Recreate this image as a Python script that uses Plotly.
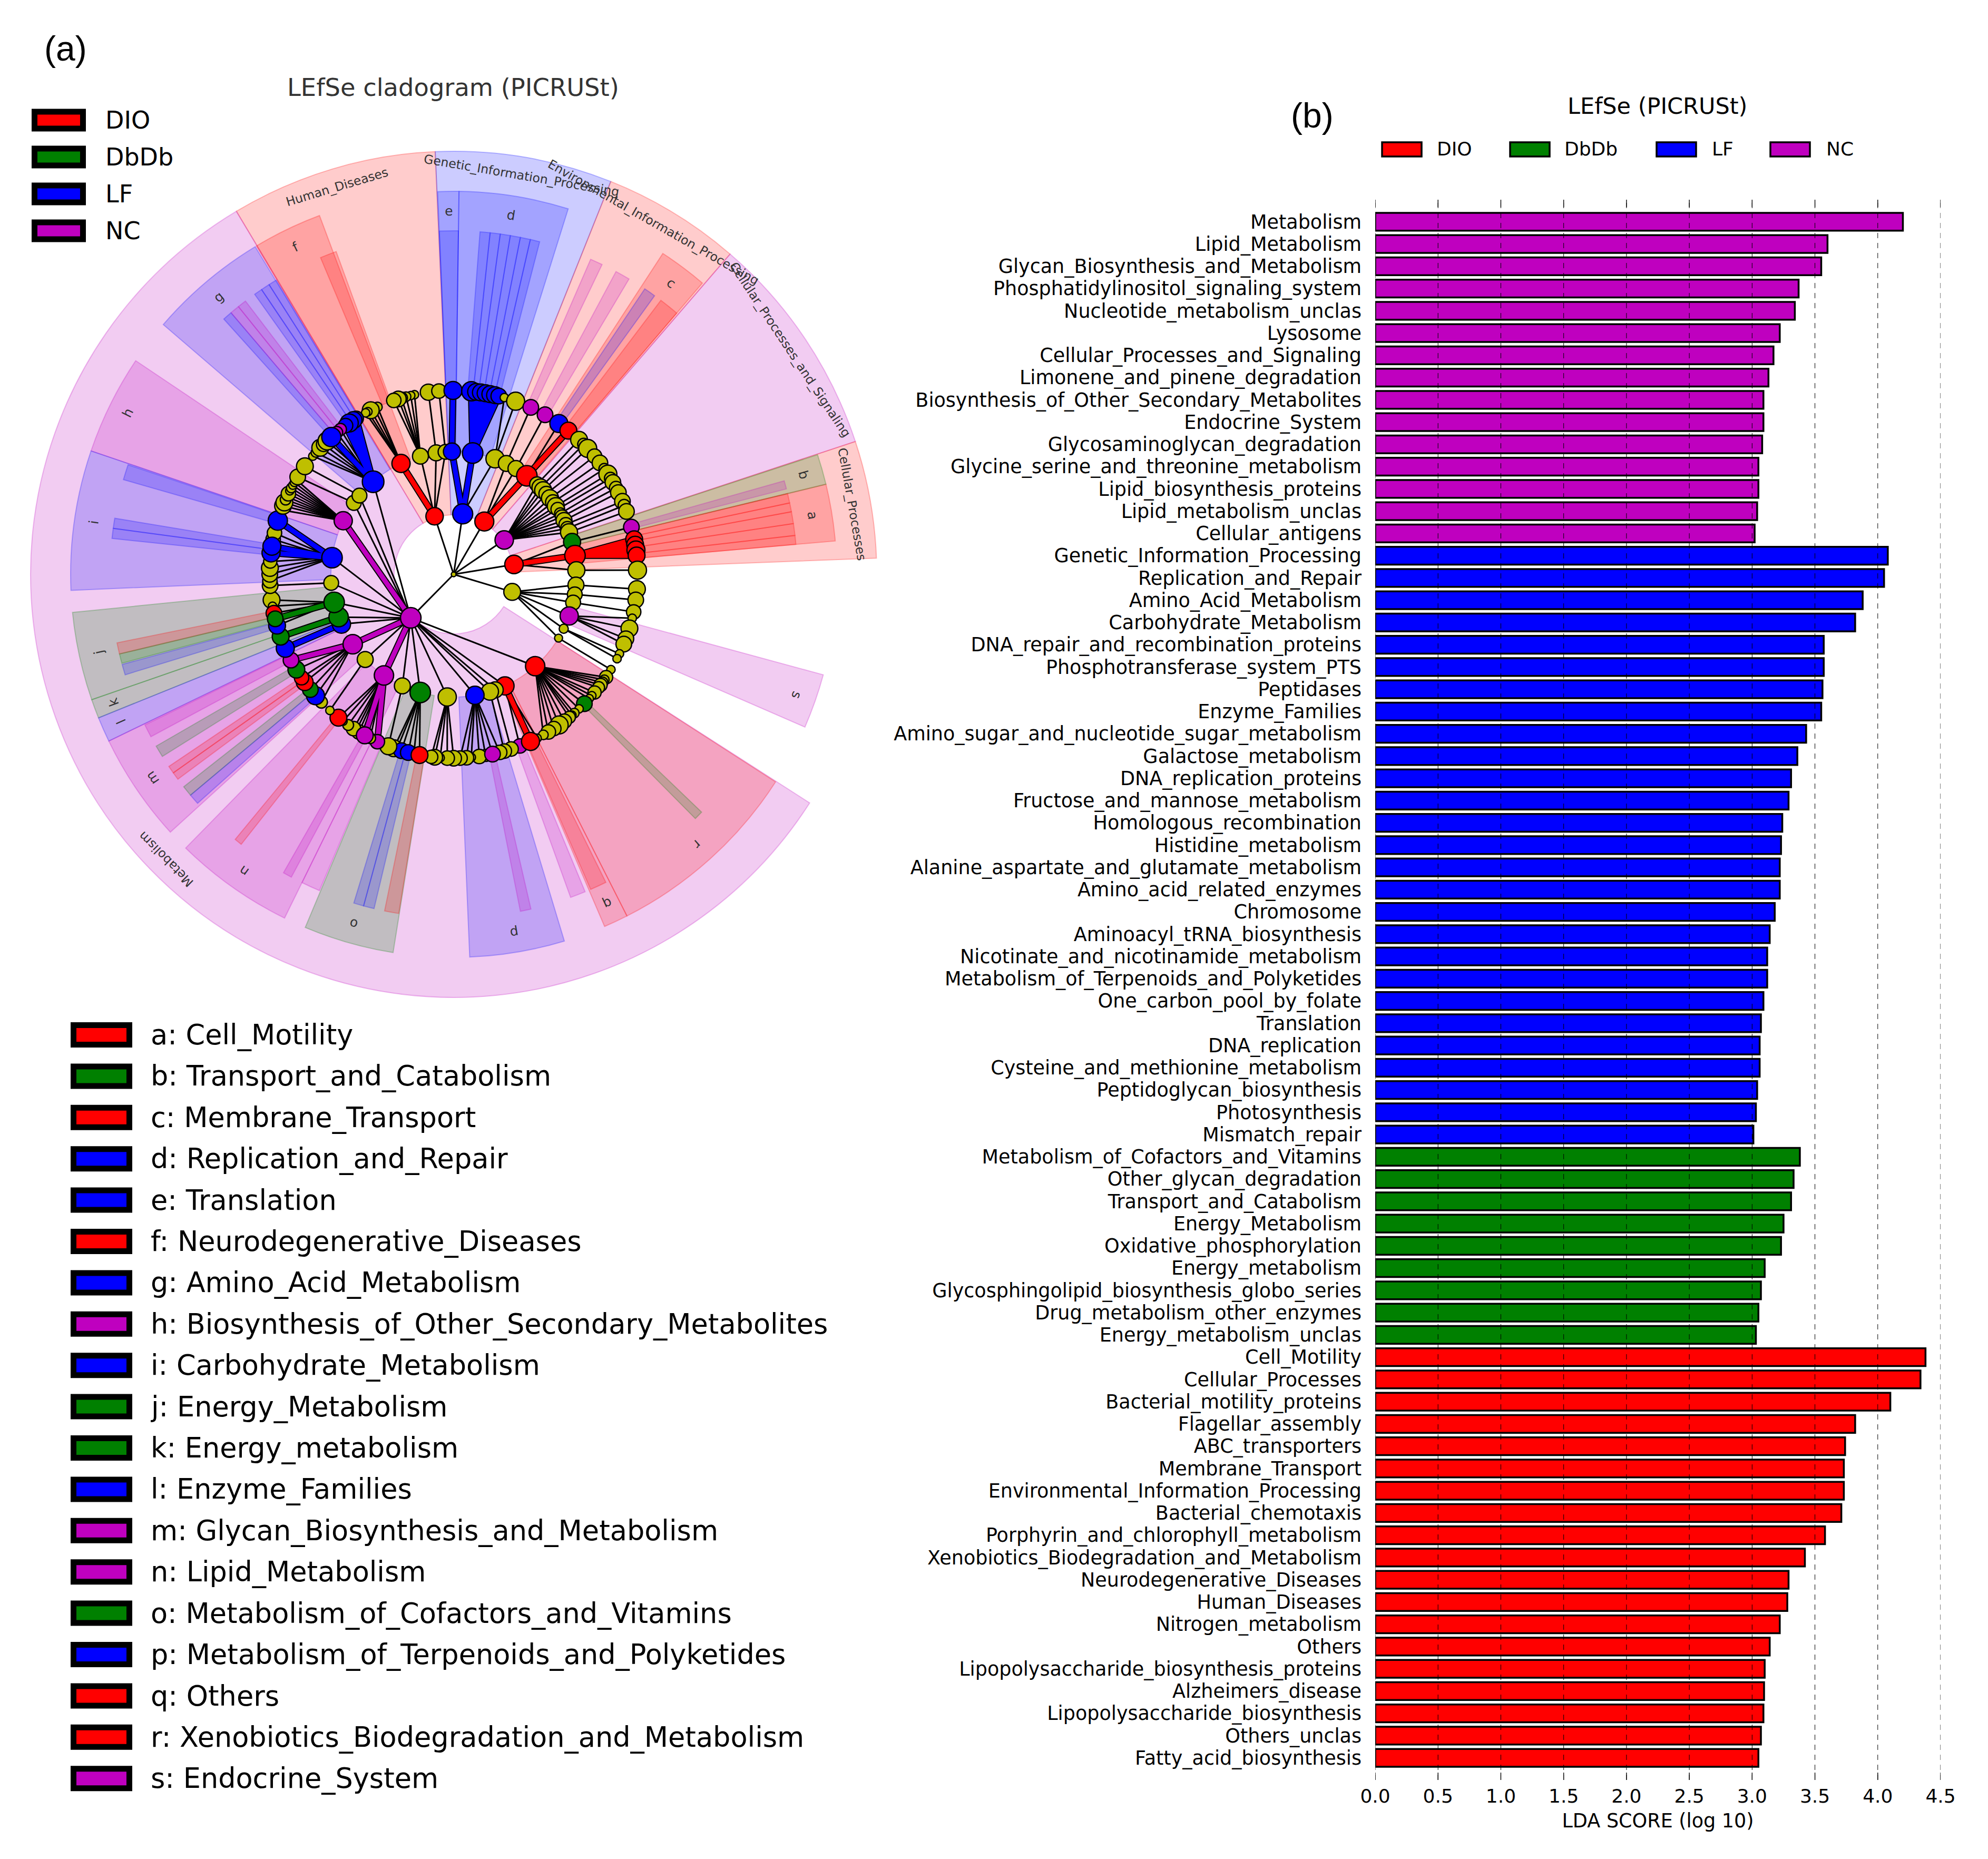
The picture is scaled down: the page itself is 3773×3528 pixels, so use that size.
import math
import plotly.graph_objects as go

W, H = 3773, 3528
FONT = "DejaVu Sans"

# ---------------- bar chart data ----------------
nc_names = ["Metabolism", "Lipid_Metabolism", "Glycan_Biosynthesis_and_Metabolism", "Phosphatidylinositol_signaling_system",
            "Nucleotide_metabolism_unclas", "Lysosome", "Cellular_Processes_and_Signaling", "Limonene_and_pinene_degradation",
            "Biosynthesis_of_Other_Secondary_Metabolites", "Endocrine_System", "Glycosaminoglycan_degradation",
            "Glycine_serine_and_threonine_metabolism", "Lipid_biosynthesis_proteins", "Lipid_metabolism_unclas", "Cellular_antigens"]
nc_values = [4.20, 3.60, 3.55, 3.37, 3.34, 3.22, 3.17, 3.13, 3.09, 3.09, 3.08, 3.05, 3.05, 3.04, 3.02]
lf_names = ["Genetic_Information_Processing", "Replication_and_Repair", "Amino_Acid_Metabolism", "Carbohydrate_Metabolism",
            "DNA_repair_and_recombination_proteins", "Phosphotransferase_system_PTS", "Peptidases", "Enzyme_Families",
            "Amino_sugar_and_nucleotide_sugar_metabolism", "Galactose_metabolism", "DNA_replication_proteins",
            "Fructose_and_mannose_metabolism", "Homologous_recombination", "Histidine_metabolism",
            "Alanine_aspartate_and_glutamate_metabolism", "Amino_acid_related_enzymes", "Chromosome", "Aminoacyl_tRNA_biosynthesis",
            "Nicotinate_and_nicotinamide_metabolism", "Metabolism_of_Terpenoids_and_Polyketides", "One_carbon_pool_by_folate",
            "Translation", "DNA_replication", "Cysteine_and_methionine_metabolism", "Peptidoglycan_biosynthesis", "Photosynthesis",
            "Mismatch_repair"]
lf_values = [4.08, 4.05, 3.88, 3.82, 3.57, 3.57, 3.56, 3.55, 3.43, 3.36, 3.31, 3.29, 3.24, 3.23, 3.22, 3.22, 3.18, 3.14, 3.12, 3.12,
             3.09, 3.07, 3.06, 3.06, 3.04, 3.03, 3.01]
dbdb_names = ["Metabolism_of_Cofactors_and_Vitamins", "Other_glycan_degradation", "Transport_and_Catabolism", "Energy_Metabolism",
              "Oxidative_phosphorylation", "Energy_metabolism", "Glycosphingolipid_biosynthesis_globo_series",
              "Drug_metabolism_other_enzymes", "Energy_metabolism_unclas"]
dbdb_values = [3.38, 3.33, 3.31, 3.25, 3.23, 3.10, 3.07, 3.05, 3.03]
dio_names = ["Cell_Motility", "Cellular_Processes", "Bacterial_motility_proteins", "Flagellar_assembly", "ABC_transporters",
             "Membrane_Transport", "Environmental_Information_Processing", "Bacterial_chemotaxis", "Porphyrin_and_chlorophyll_metabolism",
             "Xenobiotics_Biodegradation_and_Metabolism", "Neurodegenerative_Diseases", "Human_Diseases", "Nitrogen_metabolism", "Others",
             "Lipopolysaccharide_biosynthesis_proteins", "Alzheimers_disease", "Lipopolysaccharide_biosynthesis", "Others_unclas",
             "Fatty_acid_biosynthesis"]
dio_values = [4.38, 4.34, 4.10, 3.82, 3.74, 3.73, 3.73, 3.71, 3.58, 3.42, 3.29, 3.28, 3.22, 3.14, 3.10, 3.095, 3.09, 3.07, 3.05]
x_ticks = [0.0, 0.5, 1.0, 1.5, 2.0, 2.5, 3.0, 3.5, 4.0, 4.5]

groups = ["DIO", "DbDb", "LF", "NC"]
group_color = {"DIO": "#FF0000", "DbDb": "#008000", "LF": "#0000FF", "NC": "#BF00BF", "none": "#BFBF00"}
group_fill = {"DIO": "rgba(255,0,0,0.2)", "DbDb": "rgba(0,128,0,0.2)", "LF": "rgba(0,0,255,0.2)", "NC": "rgba(191,0,191,0.2)"}
group_edge = {"DIO": "rgba(255,0,0,0.25)", "DbDb": "rgba(0,128,0,0.25)", "LF": "rgba(0,0,255,0.25)", "NC": "rgba(191,0,191,0.25)"}

# ---------------- cladogram highlighted sectors (degrees clockwise from north) ----------------
sector1_names = ["Human_Diseases", "Genetic_Information_Processing", "Environmental_Information_Processing",
                 "Cellular_Processes_and_Signaling", "Cellular_Processes", "Metabolism"]
sector1_start = [-30.9, -2.5, 21.8, 40.8, 71.7, 122.7]
sector1_end = [-2.5, 21.8, 40.8, 71.7, 87.8, 329.1]
sector1_group = ["DIO", "LF", "DIO", "NC", "DIO", "NC"]
sector1_label_theta = [-16.8, 9.7, 29.6, 56.3, 80.0, 225.3]

sector2_letters = ["a", "b", "c", "d", "e", "f", "g", "h", "i", "j", "k", "l", "m", "n", "o", "p", "q", "r", "s"]
sector2_names = ["Cell_Motility", "Transport_and_Catabolism", "Membrane_Transport", "Replication_and_Repair", "Translation",
                 "Neurodegenerative_Diseases", "Amino_Acid_Metabolism", "Biosynthesis_of_Other_Secondary_Metabolites",
                 "Carbohydrate_Metabolism", "Energy_Metabolism", "Energy_metabolism", "Enzyme_Families",
                 "Glycan_Biosynthesis_and_Metabolism", "Lipid_Metabolism", "Metabolism_of_Cofactors_and_Vitamins",
                 "Metabolism_of_Terpenoids_and_Polyketides", "Others", "Xenobiotics_Biodegradation_and_Metabolism", "Endocrine_System"]
sector2_start = [76.4, 71.8, 33.1, 0.8, -2.4, -31.0, -49.3, -71.2, -92.4, 250.9, 248.0, 244.2, 227.7, 206.2, 189.1, 163.2, 153.1, 122.8, 105.2]
sector2_end = [85.0, 76.4, 40.5, 17.4, 0.8, -20.5, -31.2, -56.1, -71.2, 264.3, 250.9, 248.0, 244.2, 224.4, 202.8, 177.6, 156.8, 153.1, 113.5]
sector2_group = ["DIO", "DbDb", "DIO", "LF", "LF", "DIO", "LF", "NC", "LF", "DbDb", "DbDb", "LF", "NC", "NC", "DbDb", "LF", "DIO", "DIO", "NC"]

sector3_start = [-22.8, -2.4, 4.4, 6.1, 7.8, 9.5, 11.2, 12.9, 23.5, 28.2, 33.8, 37.1, 74.2, 76.4, 78.0, 79.5, 81.5, 83.5, 133.8, 153.7, 157.5,
                 167.0, 189.2, 193.4, 195.2, 203.0, 208.2, 218.2, 241.8, 238.0, 233.4, 234.7, 230.0, 228.2, 256.6, 255.0, 253.0, 286.0, 276.0,
                 277.7, 318.0, 319.6, 321.2, 324.6, 326.0, 327.5]
sector3_end = [-20.0, 0.8, 6.1, 7.8, 9.5, 11.2, 12.9, 14.5, 25.6, 30.7, 35.8, 40.5, 75.6, 78.0, 79.5, 81.5, 83.5, 85.0, 135.3, 156.5, 160.1,
               168.8, 191.6, 195.2, 196.9, 206.2, 209.7, 219.5, 244.0, 240.0, 234.7, 236.0, 231.8, 230.0, 258.5, 256.6, 254.8, 288.6, 277.7,
               279.4, 319.6, 321.2, 322.7, 326.0, 327.5, 328.9]
sector3_group = ["DIO", "LF", "LF", "LF", "LF", "LF", "LF", "LF", "NC", "NC", "LF", "DIO", "NC", "DIO", "DIO", "DIO", "DIO", "DIO", "DbDb", "DIO", "NC",
                 "NC", "DIO", "LF", "LF", "NC", "NC", "DIO", "NC", "DbDb", "DIO", "DIO", "DbDb", "LF", "DIO", "DbDb", "LF", "LF", "LF",
                 "LF", "LF", "NC", "NC", "LF", "LF", "LF"]

# ---------------- cladogram nodes ----------------
level1_ids = ["hd", "gi", "en", "cs", "cp", "or", "me"]
level1_theta = [-18.2, 8.5, 30.1, 55.8, 80.7, 106.7, 224.6]
level1_group = ["DIO", "LF", "DIO", "NC", "DIO", "none", "NC"]
level1_size = [33, 38, 36, 35, 35, 32, 39]

level2_ids = ["f", "h2", "h3", "h4", "e", "d", "g3", "n1", "n2", "c",
              "s01", "s02", "s03", "s04", "s05", "s06", "s07", "s08", "s09", "s10", "s11", "s12", "s13", "s14",
              "b", "a", "p3", "o1", "o2", "o3", "s", "o5", "o6",
              "r", "q", "m1", "m2", "p", "m3", "o", "m4", "n", "m5", "m", "l", "k", "j", "m6", "i", "h", "m7", "m8", "g"]
level2_parent = ["hd", "hd", "hd", "hd", "gi", "gi", "gi", "en", "en", "en",
                 "cs", "cs", "cs", "cs", "cs", "cs", "cs", "cs", "cs", "cs", "cs", "cs", "cs", "cs",
                 "cp", "cp", "cp", "or", "or", "or", "or", "or", "or",
                 "me", "me", "me", "me", "me", "me", "me", "me", "me", "me", "me", "me", "me", "me", "me", "me", "me", "me", "me", "me"]
level2_theta = [-25.4, -15.7, -8.2, -3.8, -0.8, 8.9, 19.7, 25.4, 30.5, 36.6,
                42.8, 45.0, 46.8, 49.0, 51.7, 54.0, 56.3, 58.0, 60.3, 62.0, 64.0, 66.0, 68.0, 70.0,
                74.7, 81.2, 88.1, 95.0, 99.4, 103.3, 109.8, 116.3, 121.3,
                138.4, 155.3, 160.2, 162.8, 170.0, 183.0, 195.8, 204.7, 214.6, 226.1, 235.3, 246.1, 249.6, 256.8, 266.0, 277.8, 295.9, 305.6, 309.9, 319.0]
level2_group = ["DIO", "none", "none", "none", "LF", "LF", "none", "none", "none", "DIO"] + ["none"] * 14 + \
               ["DbDb", "DIO", "none", "none", "none", "none", "NC", "none", "none",
                "DIO", "DIO", "none", "none", "LF", "none", "DbDb", "none", "NC", "none", "NC", "LF", "DbDb", "DbDb", "none", "LF", "NC", "none", "none", "LF"]
level2_size = [32, 28, 28, 26, 30, 36, 32, 28, 28, 36,
               26, 30, 30, 26, 30, 26, 30, 24, 20, 24, 28, 24, 24, 30,
               30, 36, 30, 28, 26, 26, 32, 16, 14,
               34, 32, 28, 30, 32, 32, 36, 28, 34, 28, 34, 32, 34, 36, 26, 36, 32, 26, 26, 38]

level3_parent = ["f", "f", "f", "f", "f", "h2", "h2", "h2", "h2", "h2", "h2", "h3", "h4", "e",
                 "d", "d", "d", "d", "d", "d", "d", "g3", "g3", "n1", "n2", "c", "c",
                 "s01", "s02", "s03", "s04", "s05", "s06", "s07", "s08", "s09", "s10", "s11", "s12", "s13", "s14",
                 "b", "a", "a", "a", "a", "p3", "o1", "o2", "o3", "s", "s", "s", "s", "o5", "o5", "o6",
                 "r", "r", "r", "r", "r", "r", "r", "r", "r", "r", "r", "r", "r", "r", "r", "r", "r", "r",
                 "q", "q", "q", "m1", "m2",
                 "p", "p", "p", "p", "p", "p", "p", "m3", "m3", "m3", "m3", "m3",
                 "o", "o", "o", "o", "o", "o", "m4",
                 "n", "n", "n", "n", "n", "n", "n", "n", "n", "n", "m5",
                 "m", "m", "m", "m", "m", "m", "m", "l", "k", "j", "j", "j", "j", "j", "m6",
                 "i", "i", "i", "i", "i", "i", "i", "i", "i",
                 "h", "h", "h", "h", "h", "h", "h", "h", "h", "h", "h", "m7", "m8",
                 "g", "g", "g", "g", "g", "g", "g", "g", "g", "g", "g", "g"]
level3_theta = [-24.5, -25.5, -26.8, -27.8, -28.6, -12.3, -13.5, -15.0, -16.5, -17.5, -19.0, -7.9, -4.6, -0.2,
                5.5, 7.0, 8.5, 10.0, 11.5, 13.0, 14.2, 16.0, 19.7, 24.8, 29.8, 34.9, 38.6,
                43.0, 45.0, 46.8, 50.0, 52.7, 55.0, 57.0, 58.5, 60.0, 62.0, 63.6, 66.6, 68.0, 70.0,
                75.1, 79.0, 80.7, 82.4, 84.1, 88.7, 94.6, 98.0, 101.8, 103.8, 107.1, 110.5, 112.3, 115.6, 117.3, 121.2,
                124.0, 125.0, 126.0, 127.0, 128.0, 130.0, 131.3, 132.5, 134.7, 137.0, 139.0, 140.0, 141.0, 143.0, 145.0, 147.0, 149.0, 150.8,
                153.0, 158.9, 155.3, 161.8, 164.0,
                165.5, 170.0, 172.0, 174.5, 176.0, 178.0, 167.8, 180.0, 182.0, 184.2, 185.9, 187.0,
                192.5, 198.0, 199.0, 196.5, 194.3, 190.7, 200.8,
                204.5, 207.0, 210.0, 211.0, 212.0, 213.0, 215.0, 217.0, 218.8, 208.9, 222.3,
                226.0, 228.7, 231.2, 234.1, 235.8, 238.8, 242.2, 246.3, 250.2, 262.0, 260.0, 253.8, 257.8, 256.0, 266.5,
                268.0, 270.0, 272.0, 274.0, 281.0, 283.0, 276.7, 278.8, 287.0,
                290.5, 291.9, 293.0, 294.0, 295.0, 296.0, 297.0, 298.0, 299.0, 300.0, 301.0, 302.0, 306.0,
                310.0, 311.5, 313.5, 315.0, 316.5, 328.0, 327.0, 325.4, 324.0, 322.0, 320.5, 318.3]
level3_group = ["none", "none", "none", "none", "none", "none", "none", "none", "none", "none", "none", "none", "none", "LF",
                "LF", "LF", "LF", "LF", "LF", "LF", "LF", "none", "none", "NC", "NC", "LF", "DIO"] + ["none"] * 14 + \
               ["NC", "DIO", "DIO", "DIO", "DIO", "none", "none", "none", "none", "none", "none", "none", "none", "none", "none", "none",
                "none", "none", "none", "none", "none", "none", "none", "none", "DbDb", "none", "none", "none", "none", "none", "none", "none", "none", "none",
                "none", "NC", "DIO", "none", "none",
                "none", "none", "none", "none", "none", "none", "NC", "none", "none", "none", "none", "none",
                "none", "none", "none", "LF", "LF", "DIO", "none",
                "NC", "none", "none", "none", "none", "none", "none", "none", "DIO", "NC", "none",
                "none", "LF", "DbDb", "DIO", "DIO", "DbDb", "NC", "LF", "DbDb", "none", "none", "LF", "DIO", "DbDb", "none",
                "none", "none", "none", "none", "none", "none", "LF", "LF", "LF",
                "none", "none", "none", "none", "none", "none", "none", "none", "none", "none", "none", "none", "none",
                "none", "none", "none", "none", "none", "LF", "LF", "LF", "LF", "NC", "NC", "LF"]
level3_size = [16, 14, 28, 14, 14, 14, 14, 16, 20, 26, 24, 27, 24, 30,
               32, 28, 28, 28, 28, 28, 26, 14, 30, 26, 26, 30, 28,
               28, 20, 30, 24, 26, 18, 30, 20, 26, 22, 26, 26, 20, 26,
               26, 28, 28, 30, 28, 30, 28, 26, 24, 14, 28, 26, 26, 14, 14, 14,
               22, 16, 18, 22, 20, 22, 14, 14, 26, 14, 16, 14, 20, 24, 30, 24, 24, 16,
               14, 24, 30, 24, 24,
               24, 20, 24, 14, 24, 24, 26, 26, 24, 14, 26, 22,
               14, 20, 28, 26, 26, 28, 28,
               24, 18, 18, 24, 18, 24, 18, 14, 28, 28, 14,
               20, 30, 26, 28, 24, 28, 26, 30, 28, 28, 14, 28, 26, 26, 26,
               24, 26, 28, 22, 24, 24, 30, 30, 32,
               14, 28, 28, 18, 14, 24, 14, 16, 14, 14, 14, 26, 28,
               14, 16, 28, 24, 30, 24, 28, 30, 24, 20, 20, 32]

# ---------------- geometry ----------------
CX, CY, RMAX = 861, 1090, 830
R_LEVEL = [0, 116, 233, 349]
R_IN = [113, 233, 349]
R_OUT = [803, 727, 652]
BAR_L, BAR_R, BAR_T, BAR_B = 2610, 3683, 379, 3378
SIZE2 = 1.08
SIZE3 = 1.14


def fx(x):
    return x / W


def fy(y):
    return 1 - y / H


def polar_px(theta, r):
    t = math.radians(theta)
    return CX + r * math.sin(t), CY - r * math.cos(t)


fig = go.Figure()


def add_sectors(starts, ends, grps, level, edge_w):
    fig.add_trace(go.Barpolar(
        theta=[(a + b) / 2 for a, b in zip(starts, ends)],
        width=[b - a for a, b in zip(starts, ends)],
        base=[R_IN[level]] * len(starts),
        r=[R_OUT[level] - R_IN[level]] * len(starts),
        marker=dict(color=[group_fill[g] for g in grps],
                    line=dict(color=[group_edge[g] for g in grps], width=edge_w)),
        subplot="polar", hoverinfo="skip", showlegend=False))


add_sectors(sector1_start, sector1_end, sector1_group, 0, 2)
add_sectors(sector2_start, sector2_end, sector2_group, 1, 2)
add_sectors(sector3_start, sector3_end, sector3_group, 2, 2)

# edges
l1_theta = dict(zip(level1_ids, level1_theta))
l1_group = dict(zip(level1_ids, level1_group))
l2_theta = dict(zip(level2_ids, level2_theta))
l2_group = dict(zip(level2_ids, level2_group))

edges = []
for t, g in zip(level1_theta, level1_group):
    edges.append((0, 0, t, R_LEVEL[1], "x", "y"))
for p, t, g in zip(level2_parent, level2_theta, level2_group):
    edges.append((l1_theta[p], R_LEVEL[1], t, R_LEVEL[2], l1_group[p], g))
for p, t, g in zip(level3_parent, level3_theta, level3_group):
    edges.append((l2_theta[p], R_LEVEL[2], t, R_LEVEL[3], l2_group[p], g))

thin_t, thin_r = [], []
thick = {g: ([], []) for g in groups}
for t0, r0, t1, r1, g0, g1 in edges:
    if g0 == g1 and g1 in thick:
        thick[g1][0].extend([t0, t1, None])
        thick[g1][1].extend([r0, r1, None])
    else:
        thin_t.extend([t0, t1, None])
        thin_r.extend([r0, r1, None])

fig.add_trace(go.Scatterpolar(theta=thin_t, r=thin_r, mode="lines", line=dict(color="black", width=3),
                              subplot="polar", hoverinfo="skip", showlegend=False))
for g in groups:
    tt, rr = thick[g]
    if tt:
        fig.add_trace(go.Scatterpolar(theta=tt, r=rr, mode="lines", line=dict(color="black", width=13),
                                      subplot="polar", hoverinfo="skip", showlegend=False))
        fig.add_trace(go.Scatterpolar(theta=tt, r=rr, mode="lines", line=dict(color=group_color[g], width=9),
                                      subplot="polar", hoverinfo="skip", showlegend=False))


def add_nodes(theta, r, grps, sizes):
    n = min(len(theta), len(grps), len(sizes))
    fig.add_trace(go.Scatterpolar(
        theta=theta[:n], r=r[:n], mode="markers",
        marker=dict(color=[group_color[g] for g in grps[:n]], size=sizes[:n],
                    line=dict(color="black", width=2.5), opacity=1),
        subplot="polar", hoverinfo="skip", showlegend=False))


add_nodes(level3_theta, [R_LEVEL[3]] * len(level3_theta), level3_group, [max(16, s * SIZE3) for s in level3_size])
add_nodes(level2_theta, [R_LEVEL[2]] * len(level2_theta), level2_group, [s * SIZE2 for s in level2_size])
add_nodes(level1_theta, [R_LEVEL[1]] * len(level1_theta), level1_group, level1_size)
add_nodes([0], [0], ["none"], [9])

# bars
all_names = nc_names + lf_names + dbdb_names + dio_names
for g, names, values in [("NC", nc_names, nc_values), ("LF", lf_names, lf_values),
                         ("DbDb", dbdb_names, dbdb_values), ("DIO", dio_names, dio_values)]:
    fig.add_trace(go.Bar(y=names, x=values, orientation="h", width=0.8, name=g,
                         marker=dict(color=group_color[g], line=dict(color="black", width=3.5)),
                         xaxis="x", yaxis="y", showlegend=False, hoverinfo="skip"))

annotations = []
shapes = []


def text(x, y, s, size, anchor="left", angle=0, color="black", family=FONT):
    annotations.append(dict(x=fx(x), y=fy(y), xref="paper", yref="paper", text=s, showarrow=False,
                            xanchor=anchor, yanchor="middle", textangle=angle,
                            font=dict(family=family, size=size, color=color)))


def patch(x0, y0, x1, y1, color, lw):
    shapes.append(dict(type="rect", xref="paper", yref="paper", x0=fx(x0), x1=fx(x1), y0=fy(y0), y1=fy(y1),
                       fillcolor=color, line=dict(color="black", width=lw), layer="above"))


# titles and panel labels
text(125, 92, "(a)", 66, "center", family="Liberation Sans")
text(2490, 219, "(b)", 66, "center", family="Liberation Sans")
text(860, 166, "LEfSe cladogram (PICRUSt)", 46.4, "center", color="#333333")
text(3145, 201, "LEfSe (PICRUSt)", 43, "center")

# sector labels
for name, th in zip(sector1_names, sector1_label_theta):
    x, y = polar_px(th, 768)
    text(x, y, name, 23.5, "center", angle=th, color="#333333")
for letter, a, b in zip(sector2_letters, sector2_start, sector2_end):
    th = (a + b) / 2
    x, y = polar_px(th, 690)
    text(x, y, letter, 25, "center", angle=th, color="#333333")

# group legend, left
for i, g in enumerate(groups):
    yc = 228 + i * 70
    patch(65.5, yc - 16, 157.5, yc + 16, group_color[g], 11)
    text(198, yc, g, 46)

# clade legend, left
for i, (letter, name, g) in enumerate(zip(sector2_letters, sector2_names, sector2_group)):
    yc = 1964 + i * 78.4
    patch(139.5, yc - 18.5, 245.5, yc + 18.5, group_color[g], 11)
    text(284, yc, f"{letter}: {name}", 52.5)

# group legend, right
for g, bx, tx in zip(groups, [2623, 2866, 3144, 3360], [2725, 2967, 3247, 3464]):
    patch(bx, 270, bx + 75, 297, group_color[g], 3.5)
    text(tx, 283, g, 36)

# grid drawn over the bars
for t in x_ticks:
    shapes.append(dict(type="line", xref="x", yref="paper", x0=t, x1=t, y0=fy(BAR_B), y1=fy(BAR_T),
                       line=dict(color="black", width=1, dash="10px,9px"), layer="above"))
    shapes.append(dict(type="line", xref="x", yref="paper", x0=t, x1=t, y0=fy(BAR_T), y1=fy(BAR_T + 14),
                       line=dict(color="black", width=1.4), layer="above"))
    shapes.append(dict(type="line", xref="x", yref="paper", x0=t, x1=t, y0=fy(BAR_B - 14), y1=fy(BAR_B),
                       line=dict(color="black", width=1.4), layer="above"))

fig.update_layout(
    width=W, height=H, autosize=False, margin=dict(l=0, r=0, t=0, b=0, pad=0, autoexpand=False),
    paper_bgcolor="white", plot_bgcolor="white", barmode="overlay",
    font=dict(family=FONT, color="black"),
    annotations=annotations, shapes=shapes,
    polar=dict(
        domain=dict(x=[fx(CX - RMAX), fx(CX + RMAX)], y=[fy(CY + RMAX), fy(CY - RMAX)]),
        bgcolor="rgba(0,0,0,0)", barmode="overlay",
        radialaxis=dict(range=[0, RMAX], visible=False),
        angularaxis=dict(visible=False, thetaunit="degrees", direction="clockwise", rotation=90),
    ),
    xaxis=dict(domain=[fx(BAR_L), fx(BAR_R)], range=[0, 4.5], tickvals=x_ticks, ticktext=[f"{v:.1f}" for v in x_ticks],
               showgrid=False, zeroline=False, showline=False, ticks="", tickfont=dict(size=36, family=FONT),
               ticklabelstandoff=6, anchor="y",
               title=dict(text="LDA SCORE (log 10)", font=dict(size=36.5, family=FONT), standoff=14)),
    yaxis=dict(domain=[fy(BAR_B), fy(BAR_T)], type="category", categoryorder="array", categoryarray=all_names,
               tickmode="array", tickvals=all_names, ticktext=all_names,
               range=[69.99, -0.99], showgrid=False, zeroline=False, showline=False, ticks="",
               tickfont=dict(size=36.5, family=FONT), ticklabelstandoff=25, anchor="x", automargin=False),
)

fig.write_html("out.html", config={"displayModeBar": False}, post_script="document.body.style.margin='0';")
